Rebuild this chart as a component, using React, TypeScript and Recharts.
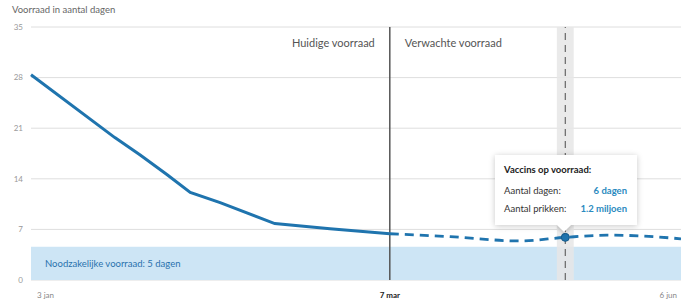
import React from 'react';
import {
  LineChart,
  Line,
  XAxis,
  YAxis,
  CartesianGrid,
  Tooltip,
  ReferenceLine,
  ReferenceArea,
  ReferenceDot,
} from 'recharts';

document.body.style.margin = '0';

// x is an index along the time axis (0 = 3 jan, 100 = 6 jun)
const actualX = [0, 12.9, 16.8, 20.9, 24.5, 29.1, 37.5, 46, 55.2];
const actualDays = [28.4, 19.7, 17.3, 14.6, 12.1, 10.7, 7.8, 7.1, 6.4];
const forecastX = [55.2, 64.5, 75.2, 82.2, 88.6, 93.7, 100];
const forecastDays = [6.4, 6.0, 5.4, 5.9, 6.2, 6.1, 5.7];

const todayX = 55.2;
const hoverX = 82.2;
const minimumStock = 4.6;
const minimumLabel = 'Noodzakelijke voorraad: 5 dagen';
const hoverPrikken = '1.2 miljoen';

const yTicks = [0, 7, 14, 21, 28, 35];
const xTicks = [0, todayX, 100];
const xTickLabels = ['3 jan', '7 mar', '6 jun'];

const BLUE = '#1f74ae';

const data = [
  ...actualX.map((x, i) => ({
    x,
    actual: actualDays[i],
    forecast: x === todayX ? actualDays[i] : null,
  })),
  ...forecastX.slice(1).map((x, i) => ({ x, actual: null, forecast: forecastDays[i + 1] })),
];
const hoverIndex = data.findIndex((d) => d.x === hoverX);

const XTick = (props: any) => {
  const { x, y, index } = props;
  const anchor = index === 0 ? 'start' : index === 2 ? 'end' : 'middle';
  const dx = index === 0 ? 6 : index === 2 ? -4 : 0;
  return (
    <text
      x={x + dx}
      y={y + 10}
      textAnchor={anchor}
      fontSize={8}
      fill={index === 1 ? '#222' : '#888'}
      fontWeight={index === 1 ? 700 : 400}
    >
      {xTickLabels[index]}
    </text>
  );
};

const SplitLabel = (props: any) => {
  const { viewBox } = props;
  const y = viewBox.y + 20;
  return (
    <g fontSize={11} fill="#555">
      <text x={viewBox.x - 15} y={y} textAnchor="end">
        Huidige voorraad
      </text>
      <text x={viewBox.x + 15} y={y} textAnchor="start">
        Verwachte voorraad
      </text>
    </g>
  );
};

const TooltipBox = (props: any) => {
  const { active, payload } = props;
  if (!active || !payload || !payload.length) return null;
  const row = payload[0].payload;
  const days = Math.round(row.forecast ?? row.actual);
  const rowStyle: React.CSSProperties = {
    display: 'flex',
    justifyContent: 'space-between',
    marginTop: 7,
  };
  const valueStyle: React.CSSProperties = { color: '#2b8ac0', fontWeight: 700 };
  return (
    <div
      style={{
        position: 'relative',
        width: 123,
        padding: '9px 10px 11px 9px',
        background: '#fff',
        boxShadow: '0 1px 6px rgba(0,0,0,0.22)',
        fontFamily: 'Lato',
        fontSize: 9.5,
        color: '#333',
      }}
    >
      <div style={{ fontWeight: 700, color: '#222', marginBottom: 10 }}>Vaccins op voorraad:</div>
      <div style={rowStyle}>
        <span>Aantal dagen:</span>
        <span style={valueStyle}>{days} dagen</span>
      </div>
      <div style={rowStyle}>
        <span>Aantal prikken:</span>
        <span style={valueStyle}>{hoverPrikken}</span>
      </div>
      <div
        style={{
          position: 'absolute',
          left: 64,
          bottom: -5,
          width: 10,
          height: 10,
          background: '#fff',
          transform: 'rotate(45deg)',
          boxShadow: '2px 2px 3px rgba(0,0,0,0.12)',
        }}
      />
    </div>
  );
};

export default function App() {
  return (
    <div style={{ position: 'relative', width: 681, height: 300, fontFamily: 'Lato' }}>
      <div
        style={{
          position: 'absolute',
          left: 12,
          top: 4,
          fontSize: 9.5,
          color: '#666',
          zIndex: 1,
        }}
      >
        Voorraad in aantal dagen
      </div>
      <LineChart
        width={681}
        height={300}
        data={data}
        margin={{ top: 27, right: 0, bottom: 0, left: 0 }}
        style={{ fontFamily: 'Lato' }}
      >
        <CartesianGrid vertical={false} stroke="#dedede" />
        <XAxis
          dataKey="x"
          type="number"
          domain={[0, 100]}
          ticks={xTicks}
          tick={<XTick />}
          axisLine={false}
          tickLine={false}
          height={20}
          interval={0}
        />
        <YAxis
          type="number"
          domain={[0, 35]}
          ticks={yTicks}
          width={31}
          tick={{ fontSize: 8, fill: '#999' }}
          axisLine={false}
          tickLine={false}
        />
        <ReferenceArea
          y1={0}
          y2={minimumStock}
          fill="#cde5f5"
          fillOpacity={1}
          stroke="none"
          label={{ value: minimumLabel, position: 'insideLeft', offset: 14, fill: '#2a72ad', fontSize: 9.5 }}
        />
        <ReferenceArea x1={hoverX - 1.3} x2={hoverX + 1.3} fill="#e6e6e6" fillOpacity={0.85} stroke="none" />
        <ReferenceLine x={hoverX} stroke="#666" strokeDasharray="7 5" strokeWidth={1.2} />
        <ReferenceLine x={todayX} stroke="#555" strokeWidth={1.5} label={<SplitLabel />} />
        <Line
          type="linear"
          dataKey="actual"
          stroke={BLUE}
          strokeWidth={3}
          dot={false}
          activeDot={false}
          connectNulls={false}
          isAnimationActive={false}
        />
        <Line
          type="monotone"
          dataKey="forecast"
          stroke={BLUE}
          strokeWidth={2.8}
          strokeDasharray="9 6"
          dot={false}
          activeDot={false}
          connectNulls={false}
          isAnimationActive={false}
        />
        <ReferenceDot x={hoverX} y={forecastDays[forecastX.indexOf(hoverX)]} r={4} fill={BLUE} stroke="#155a8a" strokeWidth={1} />
        <Tooltip
          content={<TooltipBox />}
          defaultIndex={hoverIndex}
          active
          cursor={false}
          position={{ x: 495, y: 155 }}
          isAnimationActive={false}
          allowEscapeViewBox={{ x: true, y: true }}
          wrapperStyle={{ outline: 'none' }}
        />
      </LineChart>
    </div>
  );
}
